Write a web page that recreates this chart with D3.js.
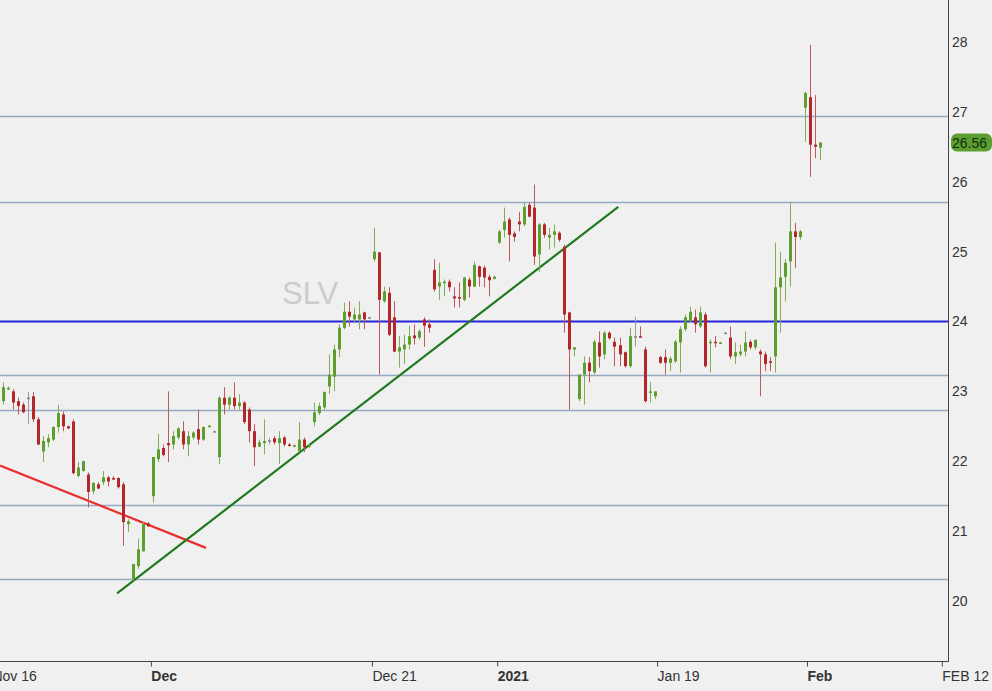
<!DOCTYPE html>
<html lang="en">
	<head>
		<meta charset="UTF-8">
		<title>SLV candles</title>
		<style>
			body{margin:0;background:#f0f0f0;}
			svg{display:block;font-family:"Liberation Sans",Arial,sans-serif;}
			.axis path{display:none;}
			.axis text{fill:#333;font-size:14px;}
		</style>
	</head>
	<body>
		<svg width="992" height="691"></svg>
		<script src="https://cdn.jsdelivr.net/npm/d3@7/dist/d3.min.js"></script>
		<script>
			// candles: [open, high, low, close], one entry per bar in order
			var candles = [
				[22.86,23.13,22.81,23.06],[23.04,23.07,23.02,23.05],[23.00,23.03,22.74,22.84],[22.86,22.91,22.67,22.79],
				[22.81,22.84,22.69,22.70],[22.91,22.99,22.53,22.91],[22.93,22.99,22.56,22.60],[22.60,22.63,22.23,22.24],
				[22.14,22.36,21.99,22.29],[22.27,22.39,22.20,22.33],[22.31,22.50,22.29,22.49],[22.49,22.81,22.41,22.69],
				[22.67,22.71,22.43,22.50],[22.50,22.51,22.46,22.47],[22.57,22.60,21.81,21.83],[21.79,21.99,21.77,21.91],
				[21.86,22.01,21.85,22.00],[21.81,21.84,21.34,21.56],[21.57,21.70,21.53,21.69],[21.67,21.70,21.60,21.61],
				[21.70,21.86,21.66,21.77],[21.77,21.79,21.64,21.71],[21.76,21.79,21.73,21.75],[21.76,21.77,21.61,21.63],
				[21.67,21.70,20.79,21.13],[21.10,21.17,20.99,21.14],[20.31,20.53,20.29,20.53],[20.50,20.89,20.46,20.74],
				[20.71,21.13,20.71,21.10],[21.11,21.13,21.06,21.07],[21.50,22.06,21.41,22.06],[22.03,22.39,21.99,22.17],
				[22.19,22.24,22.07,22.09],[22.26,23.00,21.99,22.23],[22.24,22.43,22.17,22.36],[22.34,22.49,22.31,22.47],
				[22.43,22.57,22.17,22.24],[22.24,22.43,22.07,22.36],[22.34,22.43,22.31,22.41],[22.46,22.74,22.24,22.31],
				[22.31,22.50,22.29,22.49],[22.49,22.52,22.48,22.51],[22.43,22.44,22.42,22.43],[22.06,22.93,21.96,22.91],
				[22.91,23.06,22.67,22.81],[22.81,22.93,22.74,22.91],[22.91,23.13,22.74,22.79],[22.79,22.96,22.74,22.84],
				[22.84,22.86,22.53,22.56],[22.74,22.77,22.27,22.43],[22.43,22.53,21.93,22.20],[22.21,22.31,22.20,22.27],
				[22.26,22.60,22.10,22.29],[22.30,22.34,22.24,22.30],[22.33,22.36,22.24,22.27],[22.26,22.43,21.96,22.33],
				[22.34,22.36,22.21,22.24],[22.24,22.26,22.21,22.23],[22.21,22.24,22.20,22.23],[22.14,22.56,22.13,22.31],
				[22.31,22.34,22.13,22.20],[22.21,22.26,22.19,22.23],[22.56,22.84,22.50,22.70],[22.69,22.84,22.66,22.79],
				[22.77,23.00,22.74,22.99],[23.07,23.53,22.96,23.24],[23.21,23.67,23.00,23.60],[23.60,23.96,23.49,23.91],
				[23.91,24.27,23.89,24.14],[24.14,24.29,23.93,24.07],[24.03,24.20,23.99,24.10],[24.03,24.29,23.89,24.10],
				[24.13,24.14,23.89,24.03],[24.06,24.07,24.04,24.06],[24.89,25.34,24.86,25.00],[24.99,24.99,23.24,24.31],
				[24.29,24.50,24.27,24.43],[24.41,24.49,23.79,23.81],[24.06,24.29,23.56,23.57],[23.57,23.79,23.34,23.63],
				[23.60,23.81,23.39,23.67],[23.67,23.94,23.60,23.79],[23.80,23.96,23.67,23.76],[23.77,23.89,23.74,23.86],
				[24.03,24.06,23.64,23.94],[23.96,24.03,23.84,23.91],[24.74,24.89,24.43,24.46],[24.50,24.84,24.31,24.56],
				[24.56,24.60,24.36,24.57],[24.57,24.60,24.43,24.49],[24.36,24.49,24.20,24.33],[24.35,24.56,24.20,24.33],
				[24.31,24.64,24.29,24.63],[24.60,24.63,24.34,24.50],[24.50,24.86,24.49,24.81],[24.79,24.80,24.50,24.64],
				[24.77,24.80,24.49,24.63],[24.64,24.67,24.36,24.59],[24.61,24.66,24.60,24.64],[25.13,25.31,25.11,25.29],
				[25.31,25.63,25.20,25.43],[25.46,25.49,24.86,25.24],[25.26,25.29,25.14,25.21],[25.43,25.57,25.29,25.39],
				[25.39,25.71,25.36,25.64],[25.67,25.70,25.49,25.50],[25.63,25.96,24.81,24.93],[24.96,25.41,24.71,25.39],
				[25.39,25.41,25.20,25.24],[25.20,25.34,25.03,25.24],[25.24,25.39,25.06,25.29],[25.27,25.29,25.14,25.17],
				[25.07,25.10,23.84,24.10],[24.13,24.14,22.74,23.60],[23.60,23.63,23.50,23.63],[22.89,23.24,22.86,23.24],
				[23.24,23.50,22.81,23.41],[23.41,23.49,23.13,23.29],[23.27,23.74,23.24,23.71],[23.70,23.86,23.34,23.50],
				[23.53,23.86,23.46,23.84],[23.84,23.86,23.74,23.76],[23.71,23.77,23.36,23.64],[23.66,23.77,23.36,23.53],
				[23.56,23.57,23.34,23.36],[23.36,23.91,23.34,23.79],[23.79,24.07,23.64,23.79],[23.79,23.93,23.77,23.77],
				[23.60,23.64,22.84,22.86],[22.99,23.13,22.84,23.00],[22.93,23.00,22.89,23.00],[23.49,23.51,23.39,23.41],
				[23.49,23.60,23.24,23.41],[23.41,23.50,23.29,23.47],[23.43,23.74,23.41,23.71],[23.70,23.93,23.27,23.89],
				[23.89,24.10,23.86,24.06],[24.00,24.21,23.99,24.14],[24.06,24.17,23.84,23.96],[23.93,24.21,23.91,24.13],
				[24.10,24.13,23.34,23.36],[23.70,23.74,23.27,23.71],[23.71,23.79,23.63,23.70],[23.69,23.71,23.69,23.70],
				[23.84,23.85,23.83,23.84],[23.77,23.93,23.46,23.50],[23.50,23.70,23.39,23.56],[23.53,23.67,23.50,23.57],
				[23.57,23.86,23.50,23.70],[23.71,23.74,23.60,23.63],[23.63,23.74,23.60,23.74],[23.57,23.60,22.93,23.53],
				[23.53,23.57,23.29,23.39],[23.43,23.49,23.29,23.41],[23.50,25.13,23.27,24.49],[24.49,25.00,23.84,24.63],
				[24.64,24.89,24.29,24.84],[24.86,25.71,24.50,25.29],[25.29,25.41,24.77,25.21],[25.21,25.31,25.17,25.29],
				[27.06,27.29,26.57,27.27],[27.21,27.96,26.07,26.53],[26.53,27.24,26.34,26.50],[26.49,26.57,26.31,26.56]
			];
			// horizontal support / resistance levels
			var levels = [26.94, 25.71, 23.23, 22.74, 21.38, 20.31];
			var keyLevel = 24;
			// trend lines as [bar index, price] pairs
			var redTrend = [[-0.6, 21.94], [40.5, 20.76]];
			var greenTrend = [[22.75, 20.11], [122.75, 25.64]];
			var priceTicks = [20, 21, 22, 23, 24, 25, 26, 27, 28];
			var dateTicks = [-2.2, 29.5, 73.6, 98.6, 130.5, 160.4, 187.3];
			var dateLabels = ["Nov 16", "Dec", "Dec 21", "2021", "Jan 19", "Feb", "FEB 12"];
			var boldLabels = ["Dec", "2021", "Feb"];
			var lastPrice = 26.56;
			var symbol = "SLV";

			var svg = d3.select("svg"),
				plotRight = 948,
				plotBottom = 661;

			var x = d3.scaleLinear().domain([0, candles.length - 1]).range([3, 820]);
			var y = d3.scaleLinear().domain([20, 28]).range([601, 42]);

			// watermark
			svg.append("text")
				.attr("x", 282)
				.attr("y", 304)
				.attr("fill", "#cccccc")
				.attr("font-size", "31px")
				.text(symbol);

			svg.selectAll(".level")
				.data(levels)
				.enter()
				.append("line")
				.attr("class", "level")
				.attr("x1", 0)
				.attr("x2", plotRight)
				.attr("y1", function(d){return Math.round(y(d)) + 0.5;})
				.attr("y2", function(d){return Math.round(y(d)) + 0.5;})
				.attr("stroke", "#93aac2")
				.attr("stroke-width", 1.3);

			svg.append("line")
				.attr("x1", 0)
				.attr("x2", plotRight)
				.attr("y1", y(keyLevel))
				.attr("y2", y(keyLevel))
				.attr("stroke", "#2424d8")
				.attr("stroke-width", 2.2);

			var trend = d3.line()
				.x(function(d){return x(d[0]);})
				.y(function(d){return y(d[1]);});
			svg.append("path")
				.attr("d", trend(redTrend))
				.attr("stroke", "#e8312c")
				.attr("stroke-width", 2.2)
				.attr("fill", "none");
			svg.append("path")
				.attr("d", trend(greenTrend))
				.attr("stroke", "#1f7a1f")
				.attr("stroke-width", 2.2)
				.attr("fill", "none");

			function bodyColor(d){
				if(d[0] === d[3]) return "#8a8a8a";
				return d[3] > d[0] ? "#5e9e2e" : "#b3262a";
			}
			function wickColor(d){
				if(d[0] === d[3]) return "#9a9a9a";
				return d[3] > d[0] ? "#7fae55" : "#c05a5a";
			}

			var bar = svg.selectAll(".candle")
				.data(candles)
				.enter()
				.append("g")
				.attr("class", "candle");
			bar.append("line")
				.attr("x1", function(d, i){return Math.round(x(i)) + 0.5;})
				.attr("x2", function(d, i){return Math.round(x(i)) + 0.5;})
				.attr("y1", function(d){return y(d[1]);})
				.attr("y2", function(d){return y(d[2]);})
				.attr("stroke", wickColor)
				.attr("stroke-width", 1);
			bar.append("rect")
				.attr("x", function(d, i){return Math.round(x(i)) - 1;})
				.attr("width", 3)
				.attr("y", function(d){return y(Math.max(d[0], d[3]));})
				.attr("height", function(d){return Math.max(1.5, Math.abs(y(d[0]) - y(d[3])));})
				.attr("fill", bodyColor);

			// frame: right and bottom edges
			svg.append("line")
				.attr("x1", plotRight + 0.5).attr("x2", plotRight + 0.5)
				.attr("y1", 0).attr("y2", plotBottom)
				.attr("stroke", "#444");
			svg.append("line")
				.attr("x1", 0).attr("x2", plotRight + 1)
				.attr("y1", plotBottom + 0.5).attr("y2", plotBottom + 0.5)
				.attr("stroke", "#444");

			svg.append("g")
				.attr("class", "axis y")
				.attr("transform", "translate(" + (plotRight + 2) + ",0)")
				.call(d3.axisRight(y).tickValues(priceTicks).tickSize(0).tickPadding(2).tickFormat(d3.format("d")));

			var xAxis = svg.append("g")
				.attr("class", "axis x")
				.attr("transform", "translate(0," + (plotBottom + 0.5) + ")")
				.call(d3.axisBottom(x).tickValues(dateTicks).tickSize(5)
					.tickFormat(function(d, i){return dateLabels[i];}));
			xAxis.selectAll(".tick line").attr("stroke", "#444");
			xAxis.selectAll(".tick text")
				.attr("text-anchor", "start")
				.attr("x", 0)
				.attr("y", 6)
				.attr("dy", "0.95em")
				.attr("font-weight", function(d, i){return boldLabels.indexOf(dateLabels[i]) >= 0 ? "bold" : "normal";});

			// last price tag
			svg.append("rect")
				.attr("x", plotRight + 3)
				.attr("y", y(lastPrice) - 9)
				.attr("width", 41)
				.attr("height", 18)
				.attr("rx", 6)
				.attr("fill", "#5c9e30");
			svg.append("text")
				.attr("x", plotRight + 4)
				.attr("y", y(lastPrice) + 5)
				.attr("fill", "#10300a")
				.attr("font-size", "14px")
				.text(lastPrice.toFixed(2));
		</script>
	</body>
</html>
